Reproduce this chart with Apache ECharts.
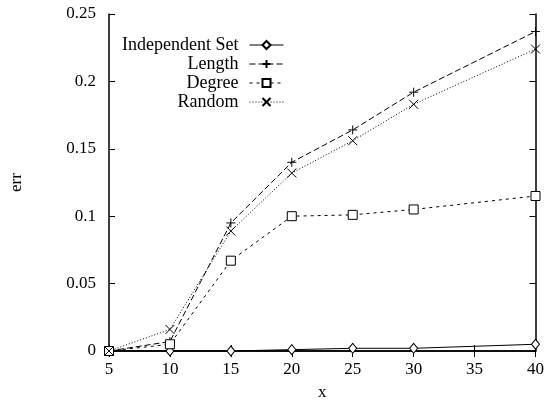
<!DOCTYPE html>
<html>
<head>
<meta charset="utf-8">
<script src="https://cdn.jsdelivr.net/npm/echarts@6/dist/echarts.min.js"></script>
<style>
  html, body { margin: 0; padding: 0; background: #fff; }
  #main { width: 547px; height: 406px; }
</style>
</head>
<body>
<div id="main"></div>
<script>
// x values (no point at 35)
const xs = [5, 10, 15, 20, 25, 30, 40];
// err values
const indepSet = [0, 0, 0, 0.001, 0.002, 0.002, 0.005];
const lengthErr = [0, 0.007, 0.095, 0.140, 0.164, 0.192, 0.237];
const degreeErr = [0, 0.005, 0.067, 0.100, 0.101, 0.105, 0.115];
const randomErr = [0, 0.016, 0.089, 0.132, 0.156, 0.183, 0.224];

const FONT = 'Liberation Serif';
const plus = 'path://M0,5L10,5M5,0L5,10';
const cross = 'path://M0,0L10,10M10,0L0,10';

function pairs(vals) {
  return xs.map((x, i) => [x, vals[i]]);
}

function mkSeries(name, vals, symbol, size, dash, hollow) {
  return {
    name: name,
    type: 'line',
    data: pairs(vals),
    symbol: symbol,
    symbolSize: size,
    xAxisIndex: 0,
    yAxisIndex: 0,
    lineStyle: { color: '#000', width: 1, type: dash },
    itemStyle: hollow
      ? { color: '#fff', borderColor: '#000', borderWidth: 1 }
      : { color: '#000', borderColor: '#000', borderWidth: 1 }
  };
}

const chart = echarts.init(document.getElementById('main'));

chart.setOption({
  backgroundColor: '#fff',
  animation: false,
  grid: { left: 106, right: 8, top: 14, bottom: 45 },
  legend: {
    orient: 'vertical',
    align: 'right',
    right: 258,
    top: 31,
    itemWidth: 34,
    itemHeight: 10,
    itemGap: 1,
    lineStyle: { width: 1 },
    textStyle: { fontFamily: FONT, fontSize: 18, color: '#000', lineHeight: 18, padding: [0, 6, 0, 0] },
    data: ['Independent Set', 'Length', 'Degree', 'Random']
  },
  xAxis: [
    {
      type: 'value', min: 5, max: 40, interval: 5,
      name: 'x', nameLocation: 'middle', nameGap: 33,
      nameTextStyle: { fontFamily: FONT, fontSize: 17, color: '#000' },
      axisLine: { show: true, lineStyle: { color: '#000', width: 1.5 } },
      axisTick: { show: true, inside: true, length: 6, lineStyle: { color: '#000' } },
      axisLabel: { fontFamily: FONT, fontSize: 17, color: '#000', margin: 10 },
      splitLine: { show: false }
    },
    {
      type: 'value', min: 5, max: 40, interval: 5, position: 'top',
      axisLine: { show: true, lineStyle: { color: '#000', width: 1.5 } },
      axisTick: { show: true, inside: true, length: 6, lineStyle: { color: '#000' } },
      axisLabel: { show: false },
      splitLine: { show: false }
    }
  ],
  yAxis: [
    {
      type: 'value', min: 0, max: 0.25, interval: 0.05,
      name: 'err', nameLocation: 'middle', nameGap: 84, nameRotate: 90,
      nameTextStyle: { fontFamily: FONT, fontSize: 17, color: '#000' },
      axisLine: { show: true, lineStyle: { color: '#000', width: 1.5 } },
      axisTick: { show: true, inside: true, length: 6, lineStyle: { color: '#000' } },
      axisLabel: { fontFamily: FONT, fontSize: 17, color: '#000', margin: 13 },
      splitLine: { show: false }
    },
    {
      type: 'value', min: 0, max: 0.25, interval: 0.05, position: 'right',
      axisLine: { show: true, lineStyle: { color: '#000', width: 1.5 } },
      axisTick: { show: true, inside: true, length: 6, lineStyle: { color: '#000' } },
      axisLabel: { show: false },
      splitLine: { show: false }
    }
  ],
  series: [
    mkSeries('Independent Set', indepSet, 'diamond', [8, 10], 'solid', true),
    mkSeries('Length', lengthErr, plus, 9, [6, 3], false),
    mkSeries('Degree', degreeErr, 'rect', 9, [3, 4], true),
    mkSeries('Random', randomErr, cross, 9, [1, 2], false)
  ]
});
</script>
</body>
</html>
